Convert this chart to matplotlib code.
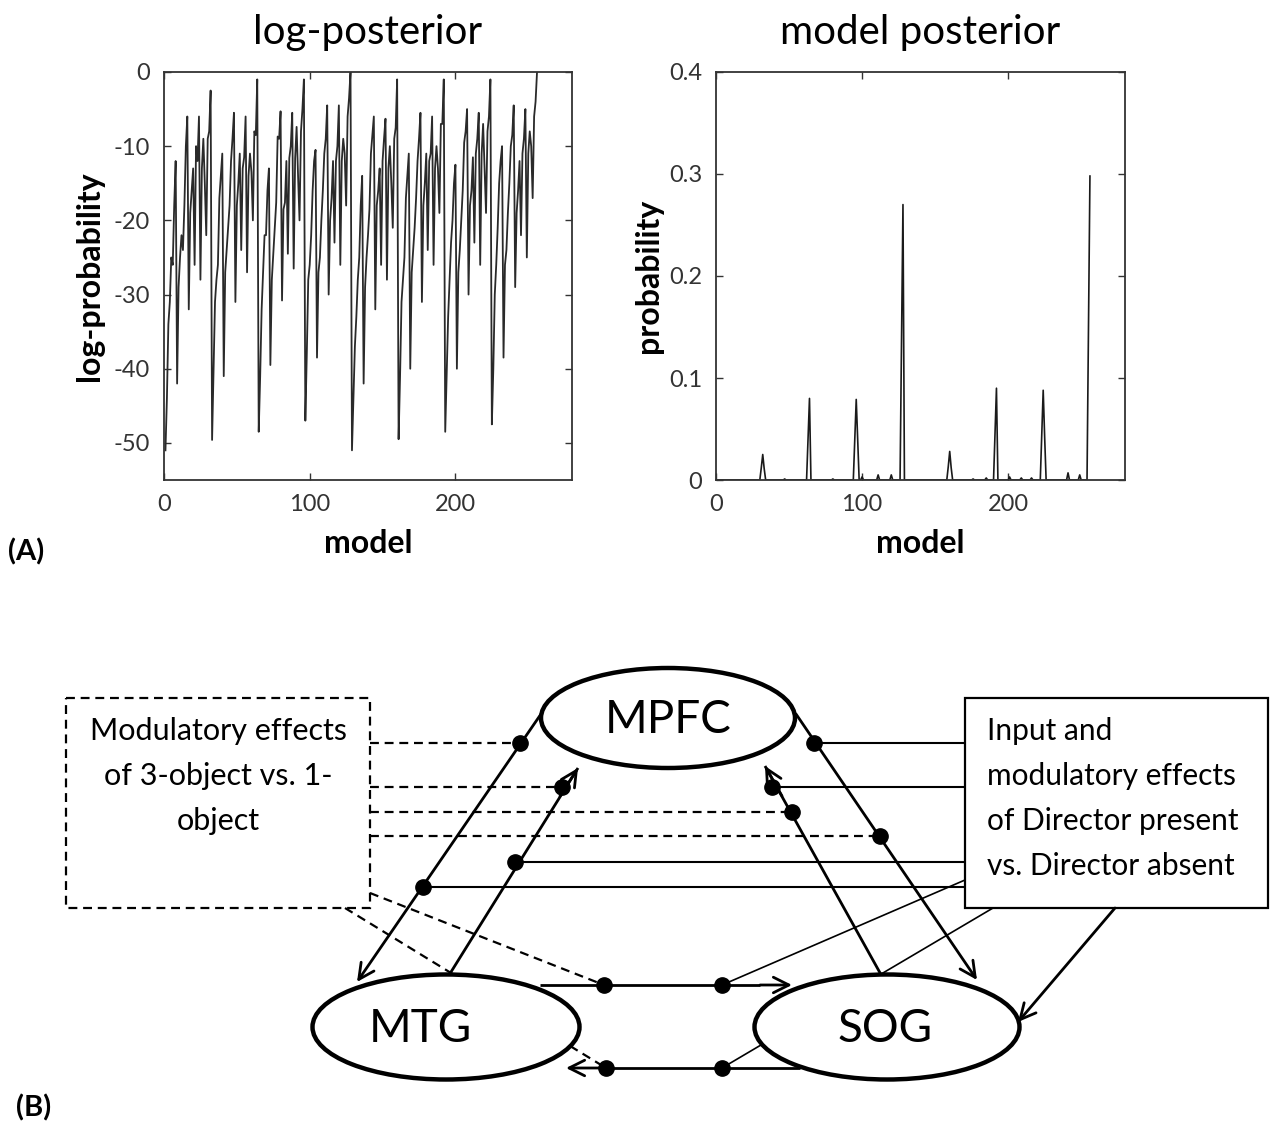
import numpy as np
import matplotlib.pyplot as plt
from matplotlib.patches import Ellipse, Rectangle

plt.rcParams['font.family'] = ['Lato', 'DejaVu Sans']
plt.rcParams['axes.unicode_minus'] = False

# log-posterior per model (8 blocks of 32 models)
log_post = [
    -51, -44, -34, -31, -25, -26, -18, -12, -42, -29, -25, -22, -24, -18, -10, -6,
    -32, -19, -16, -13, -26, -10, -12, -6, -28, -13, -9, -15, -22, -9, -8, -2.5,
    -49.6, -40, -31, -28, -26, -17, -14, -11, -41, -27, -24, -21, -18, -12, -9, -5.5,
    -31, -18, -15, -11, -24, -13, -11.5, -6, -27, -14, -11, -13.5, -20, -8, -8.5, -1,
    -48.5, -41, -32, -27, -22, -22, -16, -13, -39.5, -28, -24.5, -21, -17.6, -8.7, -9, -5.3,
    -30.8, -18.5, -17.6, -12, -24.5, -11.6, -10, -5.5, -26.5, -11.6, -7.4, -14, -20, -8, -5, -1,
    -47, -38, -28, -26, -22, -16, -12, -10.5, -38.5, -27, -25, -20, -16, -11, -9, -4.5,
    -30, -20, -17, -12, -23, -12, -10, -4.5, -26, -12, -9, -11, -18, -6, -3.5, 0,
    -51, -44, -37, -33, -28, -25, -18, -14, -42, -29, -25, -22, -18.5, -11, -8.5, -6,
    -32, -18, -16, -13, -26, -12, -9, -6.3, -28, -13, -10, -15, -21, -9, -7.5, -1,
    -49.5, -41, -31, -28, -25, -17, -14, -11, -40, -27, -24, -21, -17, -12, -9, -5.5,
    -31, -18, -15, -11, -24, -12, -11, -6, -26, -13, -10, -13, -19, -7, -7, -1,
    -48.5, -41, -33, -28, -23, -20, -15, -12.5, -40, -27, -24, -20, -16, -9.5, -8, -5,
    -30, -18, -16, -11.5, -23, -11, -9, -5.5, -26, -11, -7, -13, -19, -8, -6, -1,
    -47.5, -40, -30, -26, -21, -15, -12, -10, -38.5, -26, -24, -19, -15, -10, -8.5, -4.5,
    -29, -19, -16, -12, -22, -11, -9, -5, -25, -11, -8, -10, -17, -6, -4, 0,
]
models = np.arange(1, len(log_post) + 1)

# model posterior: the models with visible probability, all others ~0
peak_models = [31, 32, 33, 47, 63, 64, 80, 95, 96, 97, 100, 111, 120,
               127, 128, 159, 160, 161, 176, 185, 191, 192, 201, 209, 216,
               223, 224, 225, 241, 249, 255, 256]
peak_probs = [0.012, 0.025, 0.011, 0.001, 0.04, 0.08, 0.001, 0.039, 0.079, 0.038, 0.003, 0.005, 0.005,
              0.135, 0.27, 0.013, 0.028, 0.012, 0.001, 0.002, 0.045, 0.09, 0.003, 0.002, 0.002,
              0.043, 0.088, 0.042, 0.007, 0.005, 0.15, 0.298]
post = np.zeros(len(log_post))
for m, p in zip(peak_models, peak_probs):
    post[m - 1] = p

W, H = 1270, 1125
fig = plt.figure(figsize=(W / 100, H / 100), dpi=100)

# diagram layer in pixel units
dax = fig.add_axes([0, 0, 1, 1])
dax.set_xlim(0, W)
dax.set_ylim(H, 0)
dax.axis('off')

def panel(x0, y0, x1, y1):
    return fig.add_axes([x0 / W, 1 - y1 / H, (x1 - x0) / W, (y1 - y0) / H])

ax1 = panel(164, 72, 572, 480)
ax2 = panel(716, 72, 1125, 480)

ax1.plot(models, log_post, color='#2a2a2a', lw=1.3)
ax1.set_xlim(0, 280)
ax1.set_ylim(-55, 0)
ax1.set_yticks([0, -10, -20, -30, -40, -50])
ax1.set_xticks([0, 100, 200])
ax1.set_title('log-posterior', fontsize=29, pad=20)
ax1.set_ylabel('log-probability', fontsize=23, fontweight='bold', labelpad=7)

ax2.plot(models, post, color='#1a1a1a', lw=1.2)
ax2.set_xlim(0, 280)
ax2.set_ylim(0, 0.4)
ax2.set_yticks([0, 0.1, 0.2, 0.3, 0.4])
ax2.set_yticklabels(['0', '0.1', '0.2', '0.3', '0.4'])
ax2.set_xticks([0, 100, 200])
ax2.set_title('model posterior', fontsize=29, pad=20)
ax2.set_ylabel('probability', fontsize=23, fontweight='bold', labelpad=4)

for ax in (ax1, ax2):
    ax.set_xlabel('model', fontsize=23, fontweight='bold', labelpad=10)
    ax.tick_params(direction='in', top=True, right=True, length=5, width=1,
                   labelsize=17, colors='#333333', pad=10)
    for s in ax.spines.values():
        s.set_linewidth(1.3)
        s.set_color('#333333')

dax.text(8, 552, '(A)', fontsize=21, fontweight='bold', va='center')
dax.text(16, 1108, '(B)', fontsize=21, fontweight='bold', va='center')

# --- diagram (B) ---
k = 'black'
for (cx, cy, w, h, name, tx) in [(668, 718, 254, 100, 'MPFC', 668),
                                 (446, 1027, 267, 105, 'MTG', 420),
                                 (887, 1027, 265, 105, 'SOG', 885)]:
    dax.add_patch(Ellipse((cx, cy), w, h, facecolor='white', edgecolor=k, lw=3.2, zorder=3))
    dax.text(tx, cy + 2, name, fontsize=33, ha='center', va='center', zorder=5)

def arrow(x0, y0, x1, y1, lw=2.0):
    dax.annotate('', xy=(x1, y1), xytext=(x0, y0), zorder=4,
                 arrowprops=dict(arrowstyle='->', lw=lw, color=k, mutation_scale=28,
                                 shrinkA=0, shrinkB=0))

def line(x0, y0, x1, y1, lw=1.6, ls='-', z=2):
    dax.plot([x0, x1], [y0, y1], color=k, lw=lw, ls=ls, zorder=z, solid_capstyle='butt')

def dot(x, y):
    dax.plot(x, y, 'o', color=k, ms=11, zorder=6)

dash = (0, (4, 2.6))

# connections between regions
arrow(541, 714, 357, 982)     # MPFC -> MTG
line(446, 980, 578, 768, lw=2.0, z=2)
arrow(560, 796, 578, 768)     # MTG -> MPFC
line(884, 980, 765, 766, lw=2.0, z=2)
arrow(782, 796, 765, 766)     # SOG -> MPFC
arrow(796, 714, 977, 980)     # MPFC -> SOG
line(540, 985, 760, 985, lw=2.0, z=2)
arrow(760, 985, 792, 985)     # MTG -> SOG
line(800, 1068, 600, 1068, lw=2.0, z=2)
arrow(600, 1068, 566, 1068)   # SOG -> MTG

# left box: modulatory effects of 3-object vs. 1-object
dax.add_patch(Rectangle((66, 698), 304, 210, fill=False, edgecolor=k, lw=1.6,
                        linestyle=dash, zorder=2))
for i, t in enumerate(['Modulatory effects', 'of 3-object vs. 1-', 'object']):
    dax.text(218, 731 + 45 * i, t, fontsize=22, ha='center', va='center')

for (xe, ye) in [(520, 743), (562, 787), (792, 812), (880, 836)]:
    line(370, ye, xe, ye, ls=dash)
    dot(xe, ye)
line(370, 893, 604, 985, ls=dash)
line(345, 908, 606, 1068, ls=dash)
dot(604, 985)
dot(606, 1068)

# right box: input and modulatory effects of Director
dax.add_patch(Rectangle((965, 698), 303, 210, facecolor='white', edgecolor=k, lw=1.6, zorder=4))
for i, t in enumerate(['Input and', 'modulatory effects', 'of Director present',
                       'vs. Director absent']):
    dax.text(987, 731 + 45 * i, t, fontsize=21.5, ha='left', va='center', zorder=5)

for (xe, ye) in [(814, 743), (772, 787), (515, 862), (423, 887)]:
    line(965, ye, xe, ye, lw=1.5)
    dot(xe, ye)
line(965, 880, 722, 985, lw=1.2)
line(993, 908, 722, 1068, lw=1.2)
dot(722, 985)
dot(722, 1068)
arrow(1115, 908, 1018, 1022)

fig.savefig('out.png', dpi=100)
